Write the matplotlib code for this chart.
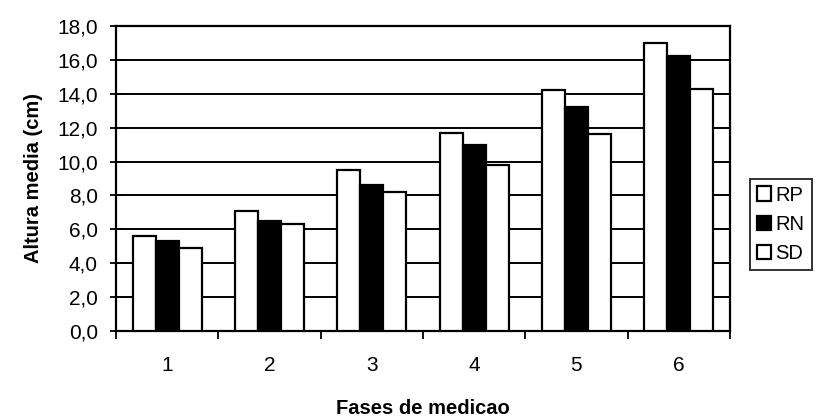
import matplotlib
matplotlib.use("Agg")
import matplotlib.pyplot as plt
import numpy as np

plt.rcParams['font.family'] = ['Liberation Sans', 'DejaVu Sans']

phases = ["1", "2", "3", "4", "5", "6"]
series_names = ["RP", "RN", "SD"]
rp = [5.6, 7.1, 9.5, 11.7, 14.2, 17.0]
rn = [5.3, 6.5, 8.6, 11.0, 13.2, 16.2]
sd = [4.9, 6.3, 8.2, 9.8, 11.6, 14.3]
yticks = [0, 2, 4, 6, 8, 10, 12, 14, 16, 18]
ytick_labels = ["0,0", "2,0", "4,0", "6,0", "8,0", "10,0", "12,0", "14,0", "16,0", "18,0"]

fig = plt.figure(figsize=(8.2, 4.19), dpi=100)
ax = fig.add_axes([0.1415, 0.21, 0.7485, 0.728])

x = np.arange(len(phases))
w = 0.225
colors = ["white", "black", "white"]
for i, (vals, name, c) in enumerate(zip([rp, rn, sd], series_names, colors)):
    ax.bar(x + (i - 1) * w, vals, width=w, color=c, edgecolor="black",
           linewidth=1.6, label=name, zorder=3)

ax.set_xlim(-0.5, len(phases) - 0.5)
ax.set_ylim(0, 18)
ax.set_yticks(yticks)
ax.set_yticklabels(ytick_labels, fontsize=15)
ax.yaxis.grid(True, color="black", linewidth=1.4, zorder=0)
ax.set_axisbelow(True)

ax.set_xticks(x)
ax.set_xticklabels(phases, fontsize=15)
ax.tick_params(axis="x", length=0, pad=18)
ax.set_xticks(np.arange(-0.5, len(phases) + 0.5, 1), minor=True)
ax.tick_params(axis="x", which="minor", length=6, width=1.3, direction="out")
ax.tick_params(axis="y", length=8, width=1.3, direction="inout", pad=9)

for s in ax.spines.values():
    s.set_linewidth(1.6)
    s.set_color("black")

ax.set_ylabel("Altura media (cm)", fontsize=14.5, fontweight="bold", labelpad=10)
ax.set_xlabel("Fases de medicao", fontsize=14.5, fontweight="bold", labelpad=17)

leg = fig.legend(loc="center left", bbox_to_anchor=(0.915, 0.465), fontsize=14.5,
                 frameon=True, fancybox=False, edgecolor="black",
                 handlelength=0.7, handleheight=0.7, handletextpad=0.2,
                 borderpad=0.35, labelspacing=0.5, borderaxespad=0)
leg.get_frame().set_linewidth(1.4)

fig.savefig("out.png", dpi=100)
